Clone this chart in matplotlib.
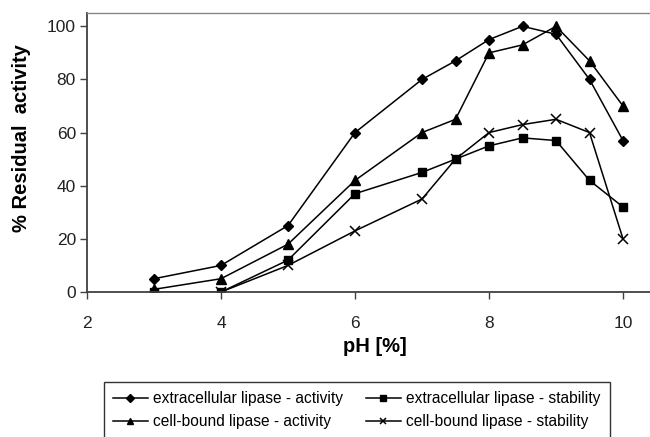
import matplotlib
matplotlib.use("Agg")
import matplotlib.pyplot as plt

# pH values where the samples were taken
ph = [3, 4, 5, 6, 7, 7.5, 8, 8.5, 9, 9.5, 10]
ph_cb_stab = [4, 5, 6, 7, 7.5, 8, 8.5, 9, 9.5, 10]

# % residual activity
extra_activity = [5, 10, 25, 60, 80, 87, 95, 100, 97, 80, 57]
extra_stability = [0, 0, 12, 37, 45, 50, 55, 58, 57, 42, 32]
cell_activity = [1, 5, 18, 42, 60, 65, 90, 93, 100, 87, 70]
cell_stability = [0, 10, 23, 35, 50, 60, 63, 65, 60, 20]

x_ticks = [2, 4, 6, 8, 10]
y_ticks = [0, 20, 40, 60, 80, 100]

plt.rcParams['font.family'] = ['Liberation Sans', 'DejaVu Sans']

fig = plt.figure(figsize=(6.5, 4.37), dpi=100)
ax = fig.add_axes([87 / 650, 1 - 292 / 437, 1 - 87 / 650 + 0.01, (292 - 13) / 437])

l1, = ax.plot(ph, extra_activity, color='black', lw=1.1, marker='D', ms=5,
              label='extracellular lipase - activity')
l2, = ax.plot(ph, extra_stability, color='black', lw=1.1, marker='s', ms=5.5,
              label='extracellular lipase - stability')
l3, = ax.plot(ph, cell_activity, color='black', lw=1.1, marker='^', ms=6.5,
              label='cell-bound lipase - activity')
l4, = ax.plot(ph_cb_stab, cell_stability, color='black', lw=1.1, marker='x', ms=6.5,
              mew=1.1, label='cell-bound lipase - stability')

ax.set_xlim(2, 10.5)
ax.set_ylim(0, 105)
ax.set_xticks(x_ticks)
ax.set_yticks(y_ticks)

for s in ['left', 'bottom']:
    ax.spines[s].set_color('#404040')
    ax.spines[s].set_linewidth(1.3)
ax.spines['top'].set_color('#888888')
ax.spines['top'].set_linewidth(1.0)
ax.spines['right'].set_visible(False)

ax.tick_params(axis='both', colors='#404040', labelcolor='#222222', labelsize=12.5,
               length=5, width=1.0, direction='out')
ax.tick_params(axis='x', pad=12)
ax.tick_params(axis='y', pad=3)

ax.set_xlabel('pH [%]', fontsize=14.5, fontweight='bold')
ax.set_ylabel('% Residual  activity', fontsize=14.5, fontweight='bold')
ax.xaxis.set_label_coords(0.506, -0.162)
ax.yaxis.set_label_coords(-0.098, 0.55)

fig.legend(handles=[l1, l3, l2, l4], loc='upper left', ncol=2,
           bbox_to_anchor=(104 / 650, 1 - 382 / 437), fontsize=11.2,
           frameon=True, fancybox=False, edgecolor='#333333', framealpha=1,
           handlelength=2.2, handletextpad=0.35, columnspacing=1.5,
           borderpad=0.6, labelspacing=0.5, borderaxespad=0, markerscale=0.75)

plt.savefig('out.png', dpi=100)
